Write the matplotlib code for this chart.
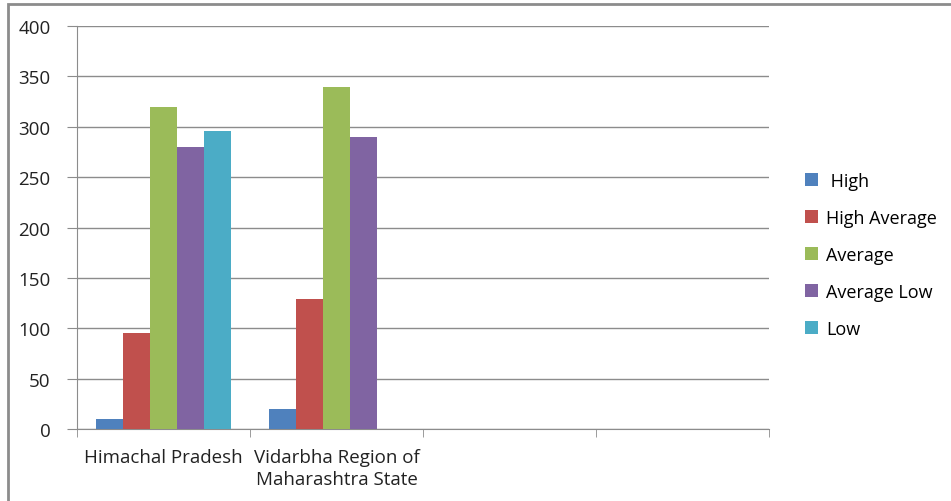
import numpy as np
import matplotlib.pyplot as plt
from matplotlib.patches import Rectangle

categories = ["Himachal Pradesh", "Vidarbha Region of\nMaharashtra State", "", ""]
series = [" High", "High Average", "Average", "Average Low", "Low"]
high = [10, 20, 0, 0]
high_avg = [95, 129, 0, 0]
average = [320, 340, 0, 0]
avg_low = [280, 290, 0, 0]
low = [296, 0, 0, 0]
colors = ["#4F81BD", "#C0504D", "#9BBB59", "#8064A2", "#4BACC6"]

values = [high, high_avg, average, avg_low, low]

fig = plt.figure(figsize=(9.51, 5.02), dpi=100)
ax = fig.add_axes([0.081, 0.1434, 0.7276, 0.8026])

# outer frame of the chart (cut at right/bottom like the source)
fig.patches.append(Rectangle((8 / 951, -0.1), 1.2, 1 - 5 / 502 + 0.1,
                             transform=fig.transFigure, fill=False,
                             edgecolor="#8c8c8c", linewidth=2))

x = np.arange(len(categories))
w = 0.155
for i, (vals, c) in enumerate(zip(values, colors)):
    ax.bar(x + (i - 2) * w, vals, w, color=c, label=series[i], zorder=3)

ax.set_xlim(-0.5, 3.5)
ax.set_ylim(0, 400)
ax.set_yticks(range(0, 401, 50))
ax.yaxis.grid(True, color="#8c8c8c", linewidth=1, zorder=0)

ax.set_xticks(x)
ax.set_xticklabels(categories, fontsize=13.5, family="Open Sans", color="#222222",
                   linespacing=1.25)
ax.tick_params(axis="x", length=0, pad=14)
ax.set_xticks(np.arange(-0.5, 4, 1), minor=True)
ax.tick_params(axis="x", which="minor", length=6, color="#8c8c8c")
ax.tick_params(axis="y", length=7, color="#8c8c8c", labelsize=13.5, pad=12)
for t in ax.get_yticklabels():
    t.set_family("Open Sans")
    t.set_color("#222222")

for s in ["top", "right"]:
    ax.spines[s].set_visible(False)
ax.spines["left"].set_color("#8c8c8c")
ax.spines["bottom"].set_color("#8c8c8c")

leg = fig.legend(loc="center left", bbox_to_anchor=(0.829, 0.49), frameon=False,
                 prop={"family": "Open Sans", "size": 13}, handlelength=0.75,
                 handleheight=0.75, labelspacing=1.05, handletextpad=0.45)

fig.savefig("out.png", dpi=100)
